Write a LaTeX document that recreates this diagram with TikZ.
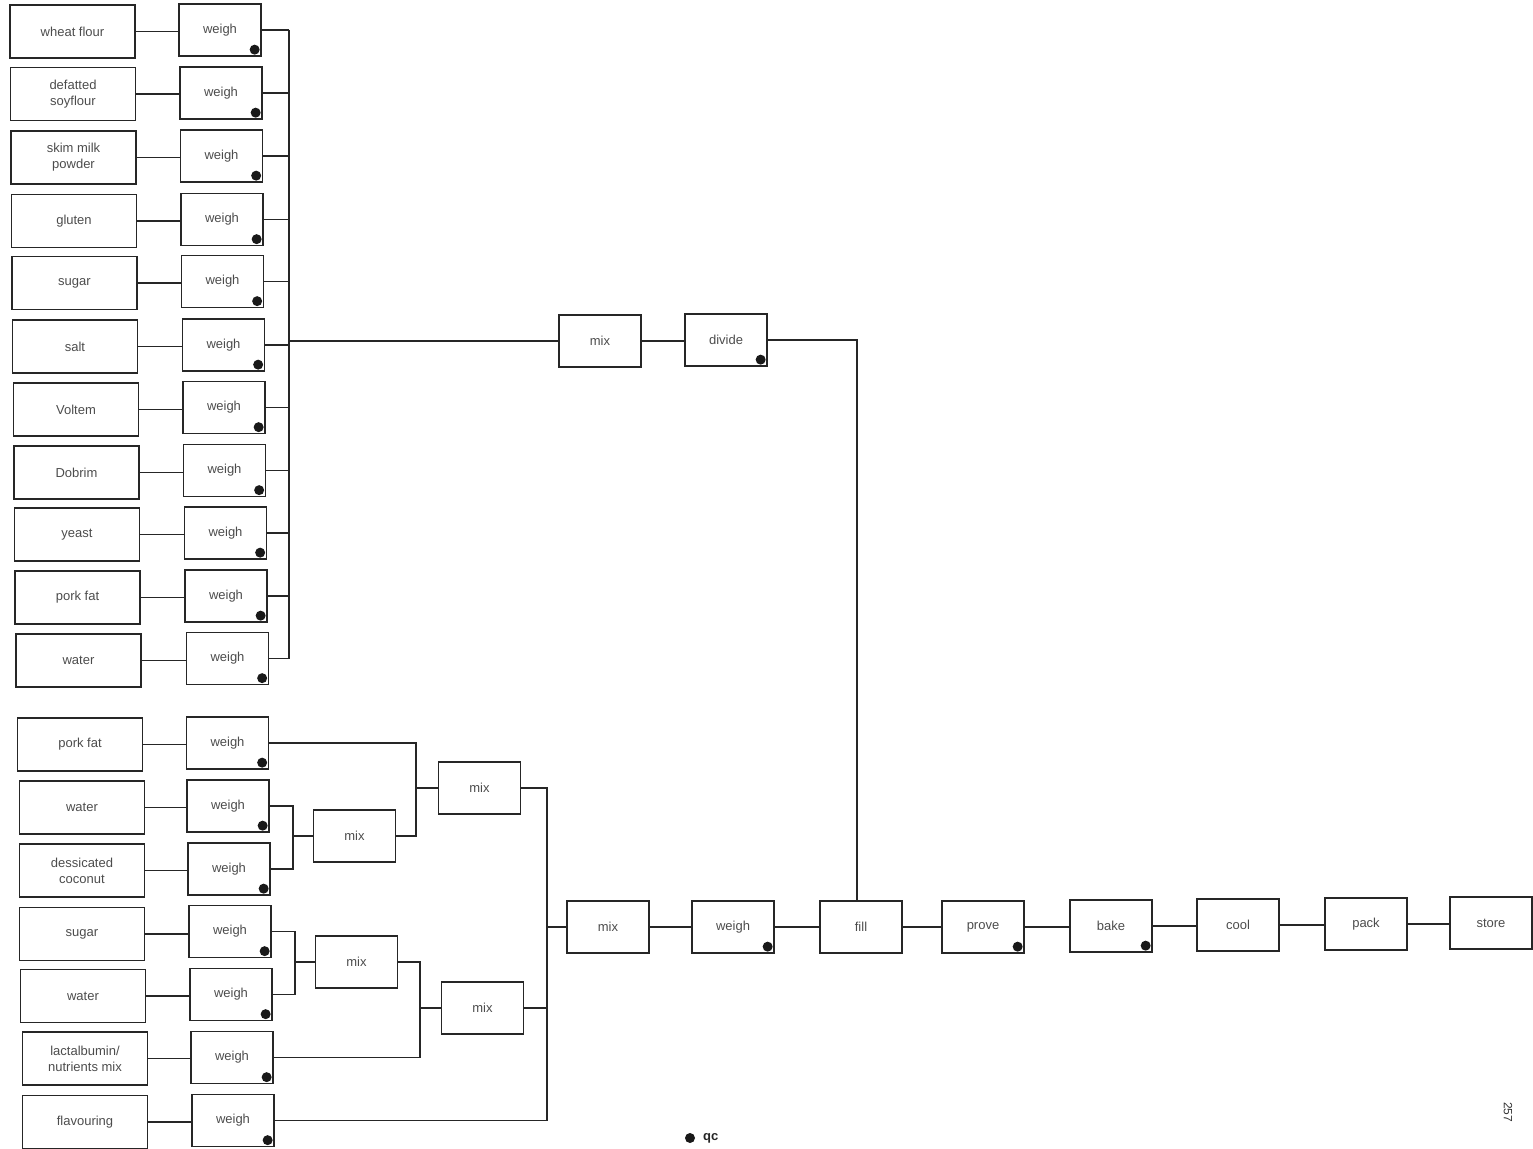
\documentclass[tikz,border=0pt]{standalone}
\usepackage{fontspec}
\setmainfont{Liberation Sans}
\usetikzlibrary{calc}
\tikzset{
  x=1pt, y=-1pt,
  box/.style={draw=black!85, line width=1.3pt, rectangle, inner sep=1pt, align=center,
    text=black!70, font=\fontsize{13}{16}\selectfont},
  ing/.style={box, minimum width=125pt, minimum height=53pt},
  wbox/.style={box, minimum width=82pt, minimum height=52pt},
  conn/.style={draw=black!85, line width=1.3pt},
  qcdot/.style={fill=black!90}
}
\newcommand{\qcmark}[1]{\fill[qcdot] ([shift={(-7pt,7pt)}]#1.south east) circle (5pt);}
\begin{document}
\begin{tikzpicture}
\useasboundingbox (0,0) rectangle (1533,1148);
% ---------- top group ----------
\node[ing] (i1) at (72.5,31.5) {wheat flour};
\node[ing] (i2) at (73,94) {defatted\\soyflour};
\node[ing] (i3) at (73.5,157.5) {skim milk\\powder};
\node[ing] (i4) at (74,221) {gluten};
\node[ing] (i5) at (74.5,283) {sugar};
\node[ing] (i6) at (75,346.5) {salt};
\node[ing] (i7) at (76,409.5) {Voltem};
\node[ing] (i8) at (76.5,472.5) {Dobrim};
\node[ing] (i9) at (77,534.5) {yeast};
\node[ing] (i10) at (77.5,597.5) {pork fat};
\node[ing] (i11) at (78.5,660.5) {water};
\node[wbox] (w1) at (220,30) {weigh};
\node[wbox] (w2) at (221,93) {weigh};
\node[wbox] (w3) at (221.5,156) {weigh};
\node[wbox] (w4) at (222,219.5) {weigh};
\node[wbox] (w5) at (222.5,281.5) {weigh};
\node[wbox] (w6) at (223.5,345) {weigh};
\node[wbox] (w7) at (224,407.5) {weigh};
\node[wbox] (w8) at (224.5,470.5) {weigh};
\node[wbox] (w9) at (225.5,533) {weigh};
\node[wbox] (w10) at (226,596) {weigh};
\node[wbox] (w11) at (227.5,658.5) {weigh};
\coordinate (bus) at (289,0);
\foreach \k in {1,...,11}{
  \draw[conn] (i\k.east) -- (i\k.east -| w\k.west);
  \draw[conn] (w\k.east) -- (w\k.east -| bus);
  \qcmark{w\k}
}
\draw[conn] (w1.east -| bus) -- (w11.east -| bus);
\node[wbox] (mix1) at (600,341) {mix};
\node[wbox] (div) at (726,340) {divide};
\qcmark{div}
\draw[conn] (mix1.west -| bus) -- (mix1.west);
\draw[conn] (mix1.east) -- (mix1.east -| div.west);
% ---------- bottom group ----------
\node[ing] (j1) at (80,744.5) {pork fat};
\node[ing] (j2) at (82,807.5) {water};
\node[ing] (j3) at (82,870.5) {dessicated\\coconut};
\node[ing] (j4) at (82,934) {sugar};
\node[ing] (j5) at (83,996) {water};
\node[ing] (j6) at (85,1058.5) {lactalbumin/\\nutrients mix};
\node[ing] (j7) at (85,1122) {flavouring};
\node[wbox] (v1) at (227.5,743) {weigh};
\node[wbox] (v2) at (228,806) {weigh};
\node[wbox] (v3) at (229,869) {weigh};
\node[wbox] (v4) at (230,931.5) {weigh};
\node[wbox] (v5) at (231,994.5) {weigh};
\node[wbox] (v6) at (232,1057.5) {weigh};
\node[wbox] (v7) at (233,1120.5) {weigh};
\foreach \k in {1,...,7}{
  \draw[conn] (j\k.east) -- (j\k.east -| v\k.west);
  \qcmark{v\k}
}
\node[wbox] (mA) at (354.5,836) {mix};
\node[wbox] (mB) at (479.5,788) {mix};
\node[wbox] (mC) at (356.5,962) {mix};
\node[wbox] (mD) at (482.5,1008) {mix};
\coordinate (xa) at (293,0);
\coordinate (xb) at (416,0);
\coordinate (xc) at (295,0);
\coordinate (xd) at (420,0);
\coordinate (xe) at (547,0);
% water + coconut -> mix A
\draw[conn] (v2.east) -- (v2.east -| xa) -- (v3.east -| xa) -- (v3.east);
\draw[conn] (mA.west -| xa) -- (mA.west);
% pork fat + mix A -> mix B
\draw[conn] (v1.east) -- (v1.east -| xb) -- (mA.east -| xb) -- (mA.east);
\draw[conn] (mB.west -| xb) -- (mB.west);
% sugar + water -> mix C
\draw[conn] (v4.east) -- (v4.east -| xc) -- (v5.east -| xc) -- (v5.east);
\draw[conn] (mC.west -| xc) -- (mC.west);
% mix C + lactalbumin -> mix D
\draw[conn] (mC.east) -- (mC.east -| xd) -- (v6.east -| xd) -- (v6.east);
\draw[conn] (mD.west -| xd) -- (mD.west);
% mix B + mix D + flavouring -> mix E
\draw[conn] (mB.east) -- (mB.east -| xe) -- (v7.east -| xe) -- (v7.east);
\draw[conn] (mD.east) -- (mD.east -| xe);
% ---------- main line ----------
\node[wbox] (mE) at (608,927) {mix};
\node[wbox] (wE) at (733,927) {weigh};
\node[wbox] (fill) at (861,927) {fill};
\node[wbox] (prove) at (983,927) {prove};
\node[wbox] (bake) at (1111,926) {bake};
\node[wbox] (cool) at (1238,925) {cool};
\node[wbox] (pack) at (1366,924) {pack};
\node[wbox] (store) at (1491,923) {store};
\qcmark{wE}
\qcmark{prove}
\qcmark{bake}
\draw[conn] (mE.west -| xe) -- (mE.west);
\draw[conn] (mE.east) -- (mE.east -| wE.west);
\draw[conn] (wE.east) -- (wE.east -| fill.west);
\draw[conn] (fill.east) -- (fill.east -| prove.west);
\draw[conn] (prove.east) -- (prove.east -| bake.west);
\draw[conn] (bake.east) -- (bake.east -| cool.west);
\draw[conn] (cool.east) -- (cool.east -| pack.west);
\draw[conn] (pack.east) -- (pack.east -| store.west);
\coordinate (fx) at (857,0);
\draw[conn] (div.east) -- (div.east -| fx) -- (fill.north -| fx);
% ---------- legend and page number ----------
\fill[qcdot] (690,1138) circle (5pt);
\node[anchor=west, text=black!85, font=\fontsize{13}{15}\selectfont\bfseries, inner sep=0pt] (qc) at (703,1138) {qc};
\node[rotate=-90, text=black!80, font=\fontsize{12}{14}\selectfont, inner sep=0pt] (pg) at (1508,1112) {257};
\end{tikzpicture}
\end{document}
